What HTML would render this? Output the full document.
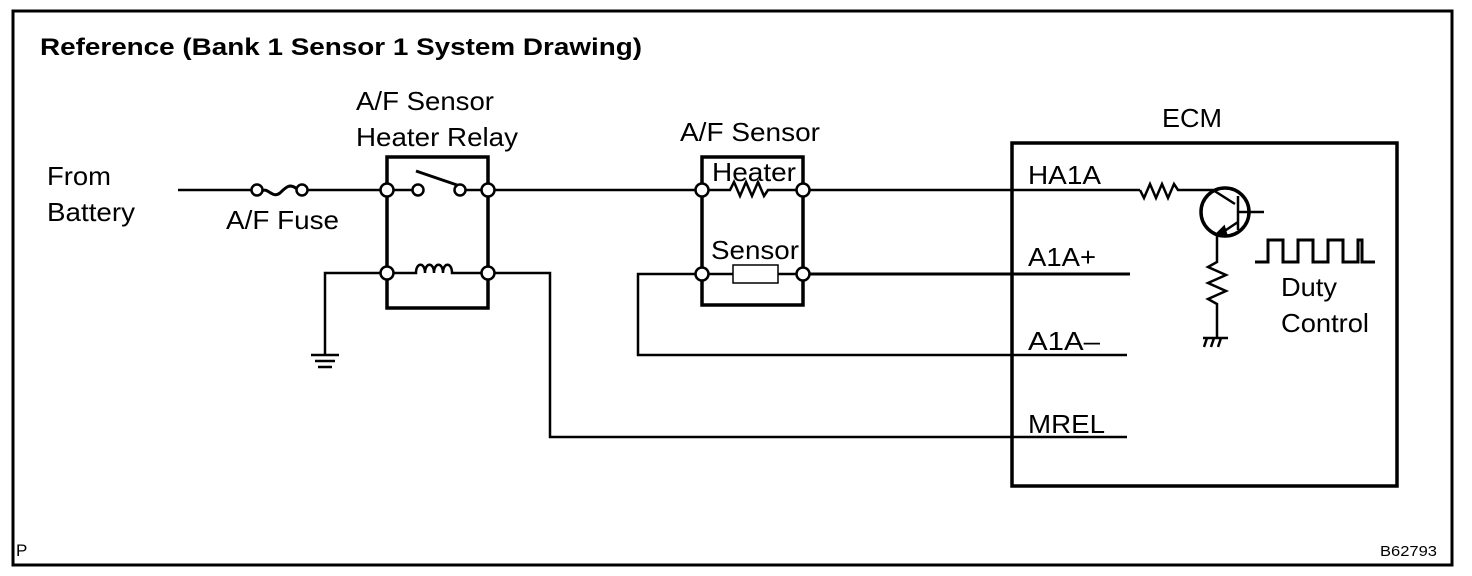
<!DOCTYPE html>
<html><head><meta charset="utf-8"><style>html,body{margin:0;padding:0;background:#fff}svg{display:block}</style></head>
<body>
<svg width="1472" height="576" viewBox="0 0 1472 576" xmlns="http://www.w3.org/2000/svg" font-family="Liberation Sans, Arial, sans-serif" fill="none" stroke="#000">
<rect x="13" y="11" width="1439" height="554" stroke-width="3"/>
<g fill="#000" stroke="none" font-size="26">
<text x="40" y="55" font-weight="bold" font-size="24" textLength="602" lengthAdjust="spacingAndGlyphs">Reference (Bank 1 Sensor 1 System Drawing)</text>
<text x="47" y="185" textLength="64" lengthAdjust="spacingAndGlyphs">From</text>
<text x="47" y="221" textLength="88" lengthAdjust="spacingAndGlyphs">Battery</text>
<text x="226" y="229" textLength="113" lengthAdjust="spacingAndGlyphs">A/F Fuse</text>
<text x="356" y="110" textLength="138" lengthAdjust="spacingAndGlyphs">A/F Sensor</text>
<text x="356" y="146" textLength="162" lengthAdjust="spacingAndGlyphs">Heater Relay</text>
<text x="680" y="141" textLength="140" lengthAdjust="spacingAndGlyphs">A/F Sensor</text>
<text x="712" y="181" textLength="84" lengthAdjust="spacingAndGlyphs">Heater</text>
<text x="711" y="259" textLength="88" lengthAdjust="spacingAndGlyphs">Sensor</text>
<text x="1162" y="127" textLength="60" lengthAdjust="spacingAndGlyphs">ECM</text>
<text x="1028" y="184" textLength="73" lengthAdjust="spacingAndGlyphs">HA1A</text>
<text x="1028" y="266" textLength="68" lengthAdjust="spacingAndGlyphs">A1A+</text>
<text x="1028" y="350" textLength="72" lengthAdjust="spacingAndGlyphs">A1A–</text>
<text x="1028" y="433" textLength="77" lengthAdjust="spacingAndGlyphs">MREL</text>
<text x="1281" y="296" textLength="56" lengthAdjust="spacingAndGlyphs">Duty</text>
<text x="1281" y="332" textLength="88" lengthAdjust="spacingAndGlyphs">Control</text>
<text x="16" y="556" font-size="17">P</text>
<text x="1380" y="556" font-size="15" textLength="57" lengthAdjust="spacingAndGlyphs">B62793</text>
</g>
<g stroke-width="2.5">
<path d="M178 190H252M307 190H383M391 190H414M491 190H698M806 190H1140"/>
<path d="M262 191c6-4 10 8 18 2c6-6 10-10 17-4" stroke-width="3"/>
<path d="M463 190h20"/>
<line x1="416" y1="171" x2="457" y2="185" stroke-width="3"/>
<path d="M387 157H488V308H387Z" stroke-width="3.5"/>
<path d="M392 273H416c0-11 9-11 9 0c0-11 9-11 9 0c0-11 9-11 9 0c0-11 9-11 9 0h32"/>
<path d="M383 273H325V355"/>
<path d="M311 355h28M315 361h20M318 367h14"/>
<path d="M492 273H550V437H1127"/>
<path d="M702 157H803V305H702Z" stroke-width="3.5"/>
<path d="M706 190H730l4-8 6 14 6-14 6 14 6-14 6 14 4-6H798"/>
<rect x="733" y="265" width="45" height="18" stroke-width="1.5"/>
<path d="M706 274H733M778 274H798"/>
<path d="M698 274H638V355H1127"/>
<path d="M807 274H1130" stroke-width="3"/>
<path d="M1012 143H1397V486H1012Z" stroke-width="3.5"/>
<path d="M1140 190l4 8 6-14 6 14 6-14 6 14 6-14 4 6H1213l22 14"/>
<circle cx="1225" cy="212" r="24" stroke-width="3.5"/>
<path d="M1238 196V230M1238 212H1264M1238 222L1220 234" />
<path d="M1224 227l-7 7 9 0z" fill="#000"/>
<path d="M1217 234V262l-9 5 18 8-18 8 18 8-18 8 9 5V337"/>
<path d="M1203 338h25M1207 338l-3 9M1214 338l-3 9M1221 338l-3 9"/>
<path d="M1255 262H1268V240H1283V262H1298V240H1313V262H1328V240H1343V262H1358V240H1362V262H1375" stroke-width="3"/>
</g>
<g fill="#fff" stroke-width="2.5">
<circle cx="257" cy="190" r="5.5"/><circle cx="302" cy="190" r="5.5"/>
<circle cx="387" cy="190" r="6.5"/><circle cx="418" cy="190" r="5.5"/><circle cx="460" cy="190" r="5.5"/><circle cx="488" cy="190" r="6.5"/>
<circle cx="387" cy="273" r="6.5"/><circle cx="488" cy="273" r="6.5"/>
<circle cx="702" cy="190" r="6.5"/><circle cx="803" cy="190" r="6.5"/>
<circle cx="702" cy="274" r="6.5"/><circle cx="803" cy="274" r="6.5"/>
</g>
</svg>
</body></html>
